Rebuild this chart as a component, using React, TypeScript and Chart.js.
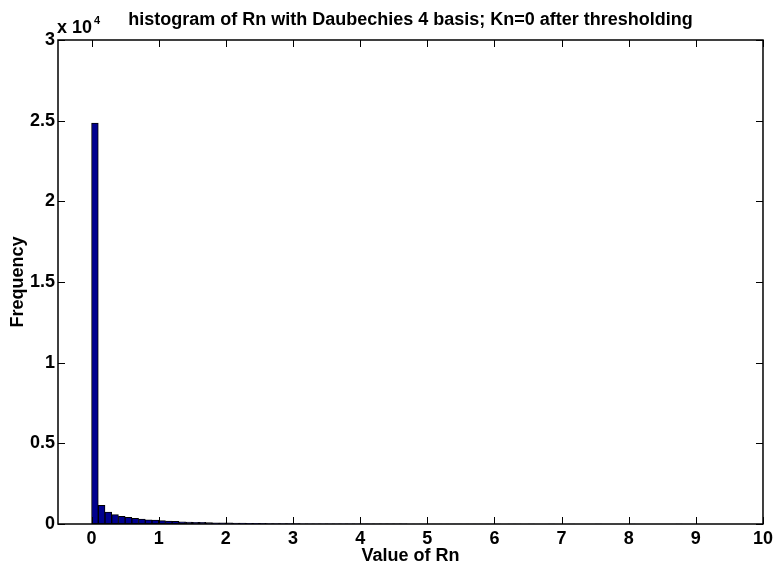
import React, { useEffect, useRef } from "react";
import { Chart, registerables } from "chart.js";

Chart.register(...registerables);

const TITLE = "histogram of Rn with Daubechies 4 basis; Kn=0 after thresholding";
const X_LABEL = "Value of Rn";
const Y_LABEL = "Frequency";
const BIN_WIDTH = 0.1;
const BIN_START = 0;
const COUNTS = [
  24850, 1150, 740, 580, 480, 420, 350, 300, 260, 240,
  210, 180, 160, 140, 125, 110, 100, 90, 80, 72,
  65, 58, 52, 46, 41, 36, 32, 28, 25, 22,
  19, 17, 15, 13, 11, 10, 9, 8, 7, 6,
  5, 5, 4, 4, 3, 3, 3, 2, 2, 2,
  2, 2, 1, 1, 1, 1, 1, 1, 1, 1,
  1, 0, 1, 1, 0, 1, 0, 0, 1, 0,
  0, 1, 0, 0, 0, 1, 0, 0, 0, 0,
  1, 0, 0, 0, 0, 0, 0, 1, 0, 0,
  0, 0, 0, 0, 0, 0, 0, 0, 0, 1,
];
const X_TICKS = [0, 1, 2, 3, 4, 5, 6, 7, 8, 9, 10];
const Y_TICKS = [0, 5000, 10000, 15000, 20000, 25000, 30000];
const X_MIN = -0.5;
const X_MAX = 10;
const Y_MIN = 0;
const Y_MAX = 30000;
const Y_EXPONENT = 4;

const FONT = "'Liberation Sans', Arial, Helvetica, sans-serif";

const framePlugin = {
  id: "matlabFrame",
  afterDatasetsDraw(chart: any) {
    const { ctx, chartArea } = chart;
    const { left, right, top, bottom } = chartArea;
    const xs = chart.scales.x;
    const ys = chart.scales.y;
    ctx.save();
    ctx.strokeStyle = "#000";
    ctx.lineWidth = 1;
    const TL = 7;
    ctx.beginPath();
    X_TICKS.forEach((v) => {
      const px = Math.round(xs.getPixelForValue(v)) + 0.5;
      ctx.moveTo(px, bottom);
      ctx.lineTo(px, bottom - TL);
      ctx.moveTo(px, top);
      ctx.lineTo(px, top + TL);
    });
    Y_TICKS.forEach((v) => {
      const py = Math.round(ys.getPixelForValue(v)) + 0.5;
      ctx.moveTo(left, py);
      ctx.lineTo(left + TL, py);
      ctx.moveTo(right, py);
      ctx.lineTo(right - TL, py);
    });
    ctx.stroke();
    ctx.lineWidth = 1.5;
    ctx.strokeRect(left, top, right - left, bottom - top);
    ctx.restore();
  },
  afterDraw(chart: any) {
    const { ctx, chartArea } = chart;
    const { left, right, top } = chartArea;
    ctx.save();
    ctx.fillStyle = "#000";
    ctx.textBaseline = "alphabetic";
    ctx.font = `bold 18px ${FONT}`;
    ctx.textAlign = "center";
    ctx.fillText(TITLE, (left + right) / 2, 25);
    ctx.textAlign = "left";
    ctx.font = `bold 18px ${FONT}`;
    const base = "x 10";
    ctx.fillText(base, left - 1, top - 7);
    const w = ctx.measureText(base).width;
    ctx.font = `bold 11px ${FONT}`;
    ctx.fillText(String(Y_EXPONENT), left + w + 1, top - 16);
    ctx.restore();
  },
};

export default function App() {
  const ref = useRef<HTMLCanvasElement | null>(null);
  useEffect(() => {
    if (!ref.current) return;
    const data = COUNTS.map((c, i) => ({ x: BIN_START + BIN_WIDTH * (i + 0.5), y: c }));
    const chart = new Chart(ref.current, {
      type: "bar",
      data: {
        datasets: [
          {
            data: data as any,
            backgroundColor: "rgb(0,0,143)",
            borderColor: "#000",
            borderWidth: 1,
            borderSkipped: false,
            barPercentage: 1,
            categoryPercentage: 1,
          },
        ],
      },
      options: {
        animation: false,
        responsive: false,
        maintainAspectRatio: false,
        layout: { padding: { top: 40, right: 10, left: 0, bottom: 0 } },
        plugins: { legend: { display: false }, tooltip: { enabled: false }, title: { display: false } },
        scales: {
          x: {
            type: "linear",
            min: X_MIN,
            max: X_MAX,
            offset: false,
            grid: { display: false, drawTicks: false },
            border: { display: false },
            afterBuildTicks: (s: any) => {
              s.ticks = X_TICKS.map((v) => ({ value: v }));
            },
            afterFit: (s: any) => {
              s.height = 38;
            },
            ticks: {
              padding: 4,
              color: "#000",
              font: { family: FONT, size: 18, weight: "bold" },
              maxRotation: 0,
              autoSkip: false,
              callback: (v: any) => String(v),
            },
            title: {
              display: true,
              text: X_LABEL,
              color: "#000",
              font: { family: FONT, size: 18, weight: "bold", lineHeight: 1 },
              padding: { top: 0, bottom: -3 },
            },
          },
          y: {
            type: "linear",
            min: Y_MIN,
            max: Y_MAX,
            grid: { display: false, drawTicks: false },
            border: { display: false },
            afterBuildTicks: (s: any) => {
              s.ticks = Y_TICKS.map((v) => ({ value: v }));
            },
            afterFit: (s: any) => {
              s.width = 58;
            },
            ticks: {
              padding: 3,
              color: "#000",
              font: { family: FONT, size: 18, weight: "bold" },
              autoSkip: false,
              callback: (v: any) => String(Number(v) / Math.pow(10, Y_EXPONENT)),
            },
            title: {
              display: true,
              text: Y_LABEL,
              color: "#000",
              font: { family: FONT, size: 18, weight: "bold", lineHeight: 1 },
              padding: { top: 9, bottom: 9 },
            },
          },
        },
      },
      plugins: [framePlugin],
    });
    return () => chart.destroy();
  }, []);
  return (
    <div style={{ position: "fixed", left: 0, top: 0, width: 777, height: 562, background: "#fff" }}>
      <canvas ref={ref} width={777} height={562} style={{ display: "block", width: 777, height: 562 }} />
    </div>
  );
}
